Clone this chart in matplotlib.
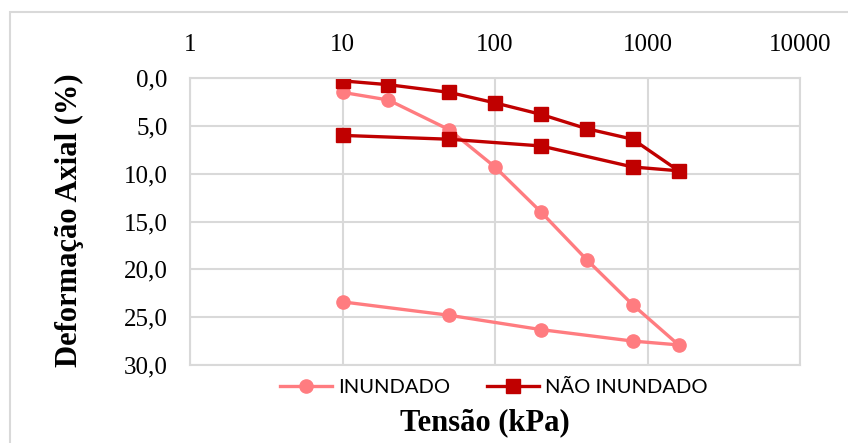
import matplotlib
matplotlib.use('Agg')
import matplotlib.pyplot as plt
from matplotlib.patches import Rectangle

# tensão (kPa) - carregamento e descarregamento
tensao = [10, 20, 50, 100, 200, 400, 800, 1600, 800, 200, 50, 10]
inundado = [1.5, 2.3, 5.4, 9.3, 14.0, 19.0, 23.7, 27.9, 27.5, 26.3, 24.8, 23.4]
nao_inundado = [0.3, 0.7, 1.5, 2.6, 3.8, 5.3, 6.4, 9.7, 9.3, 7.1, 6.4, 6.0]

x_ticks = [1, 10, 100, 1000, 10000]
y_ticks = [0, 5, 10, 15, 20, 25, 30]

c_inund = '#FF7C80'
c_nao = '#C00000'
grid_c = '#D9D9D9'

W, H = 848, 443
fig = plt.figure(figsize=(W / 100, H / 100), dpi=100)
# moldura do gráfico (cortada à direita e em baixo)
fig.patches.append(Rectangle((10 / W, -0.1), 1.2, 1.1 - 12 / H, transform=fig.transFigure,
                             fill=False, edgecolor=grid_c, lw=1.5))

ax = fig.add_axes([190 / W, (H - 365) / H, 610 / W, 287 / H])

ax.plot(tensao, inundado, color=c_inund, lw=2.4, marker='o', ms=9.5, label='INUNDADO')
ax.plot(tensao, nao_inundado, color=c_nao, lw=2.4, marker='s', ms=10, label='NÃO INUNDADO')

ax.set_xscale('log')
ax.set_xlim(1, 10000)
ax.set_ylim(30, 0)
ax.set_xticks(x_ticks)
ax.set_xticklabels([str(v) for v in x_ticks])
ax.minorticks_off()
ax.set_yticks(y_ticks)
ax.set_yticklabels([('%.1f' % v).replace('.', ',') for v in y_ticks])

ax.xaxis.tick_top()
ax.tick_params(axis='x', length=0, pad=16, labelsize=18)
ax.tick_params(axis='y', length=0, pad=16, labelsize=18)
for lbl in ax.get_xticklabels() + ax.get_yticklabels():
    lbl.set_fontfamily('Liberation Serif')

ax.grid(True, color=grid_c, lw=1.5)
ax.set_axisbelow(True)
for s in ax.spines.values():
    s.set_color(grid_c)
    s.set_linewidth(1.5)

fig.legend(loc='center', bbox_to_anchor=(494 / W, 1 - 387 / H), ncol=2, frameon=False,
           prop={'family': 'Lato', 'size': 14.5}, handlelength=2.6, handletextpad=0.3,
           columnspacing=1.8)

fig.text(485 / W, 1 - 423 / H, 'Tensão (kPa)', ha='center', va='center',
         family='Liberation Serif', weight='bold', size=22)
fig.text(69 / W, 1 - 220 / H, 'Deformação Axial (%)', ha='center', va='center', rotation=90,
         family='Liberation Serif', weight='bold', size=22)

fig.savefig('out.png', dpi=100)
